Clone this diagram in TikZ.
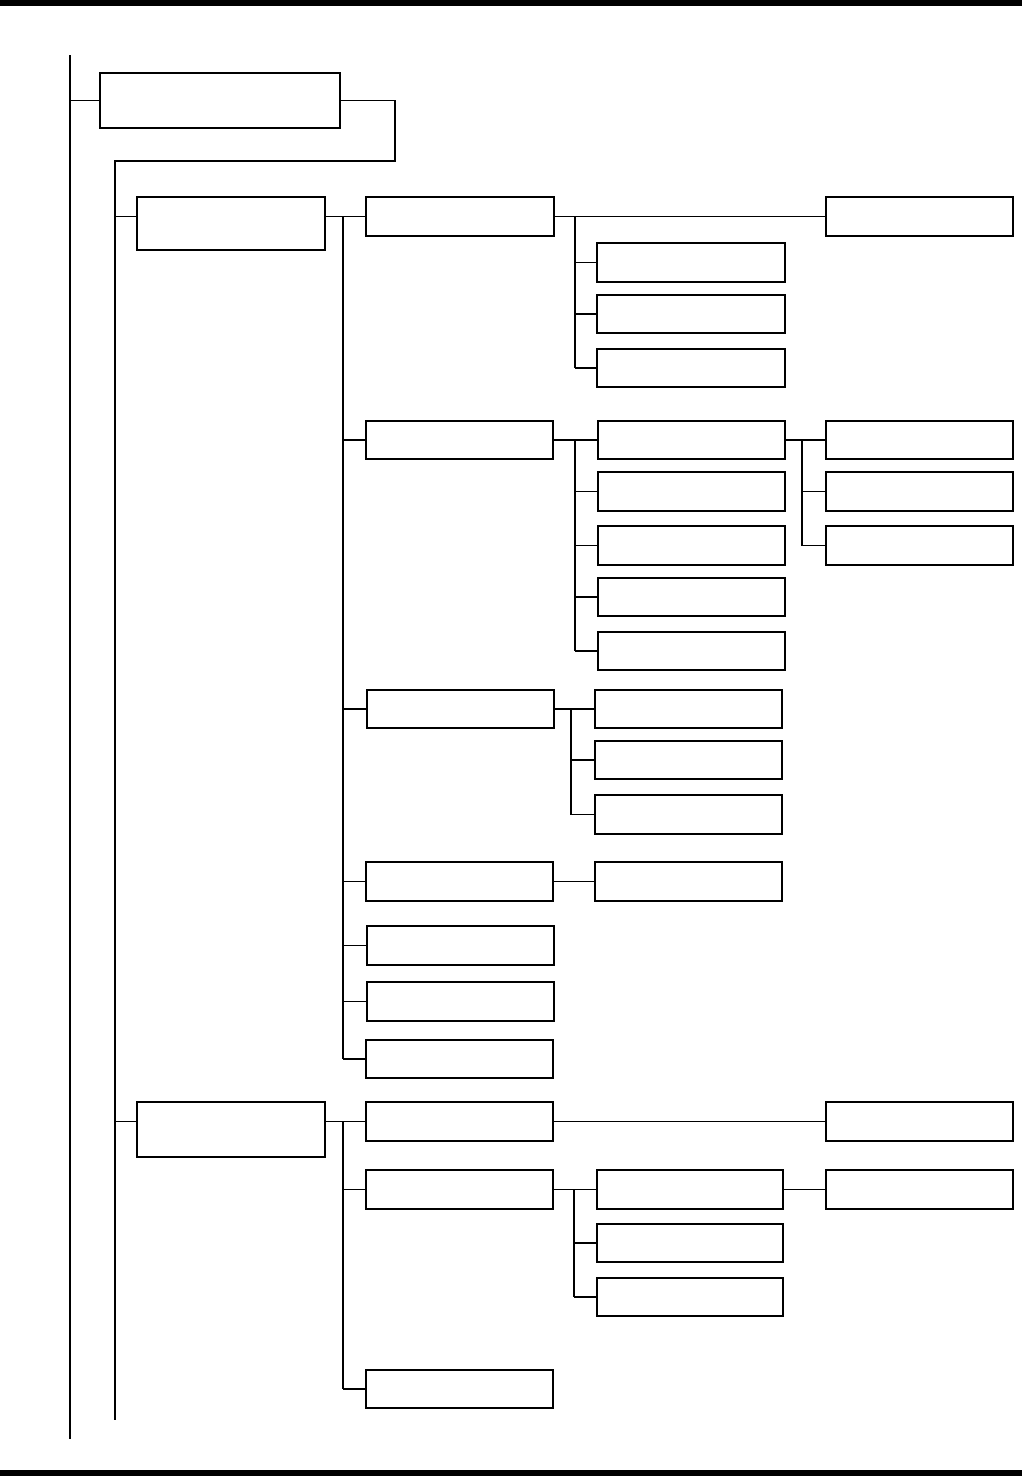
\documentclass[tikz,border=0pt]{standalone}
\newcommand\mybx[5]{\node[box, anchor=north west, minimum width={(#4-#2)*1pt}, minimum height={(#5-#3)*1pt}] (#1) at (#2,#3) {};}
\begin{document}
\begin{tikzpicture}[x=1pt,y=-1pt,
  box/.style={draw, line width=1.6pt, inner sep=0pt, outer sep=0pt, rectangle},
  conn/.style={line width=1.5pt}]
\useasboundingbox (0,0) rectangle (1022,1476);
\fill (0,0) rectangle (1022,6);
\fill (0,1470) rectangle (1022,1476);
% boxes
\mybx{root}{100}{73}{340}{128}
\mybx{A}{137}{197}{325}{250}
\mybx{H}{137}{1102}{325}{1157}
\mybx{B1}{366}{197}{554}{236}
\mybx{B2}{366}{421}{553}{459}
\mybx{B3}{367}{690}{554}{728}
\mybx{B4}{366}{862}{553}{901}
\mybx{B5}{367}{926}{554}{965}
\mybx{B6}{367}{982}{554}{1021}
\mybx{B7}{366}{1040}{553}{1078}
\mybx{B1R}{826}{197}{1013}{236}
\mybx{C1}{597}{243}{785}{282}
\mybx{C2}{597}{295}{785}{333}
\mybx{C3}{597}{349}{785}{387}
\mybx{D1}{598}{421}{785}{459}
\mybx{D2}{598}{472}{785}{511}
\mybx{D3}{598}{526}{785}{565}
\mybx{D4}{598}{578}{785}{616}
\mybx{D5}{598}{632}{785}{670}
\mybx{E1}{826}{421}{1013}{459}
\mybx{E2}{826}{472}{1013}{511}
\mybx{E3}{826}{526}{1013}{565}
\mybx{F1}{595}{690}{782}{728}
\mybx{F2}{595}{741}{782}{779}
\mybx{F3}{595}{795}{782}{834}
\mybx{G1}{595}{862}{782}{901}
\mybx{J1}{366}{1102}{553}{1141}
\mybx{J1R}{826}{1102}{1013}{1141}
\mybx{J2}{366}{1170}{553}{1209}
\mybx{J3}{366}{1370}{553}{1408}
\mybx{K1}{597}{1170}{783}{1209}
\mybx{K2}{597}{1224}{783}{1262}
\mybx{K3}{597}{1278}{783}{1316}
\mybx{K1R}{826}{1170}{1013}{1209}
% spine coordinates
\coordinate (s0t) at (70,55);
\coordinate (s0b) at (70,1439);
\coordinate (r1) at (395,161);
\coordinate (s1b) at (115,1420);
\coordinate (s2) at (343,0);
\coordinate (sc) at (575,0);
\coordinate (se) at (802,0);
\coordinate (sf) at (571,0);
\coordinate (sk) at (574,0);
% connectors
\draw[conn] (s0t) -- (s0b);
\draw[conn] (s0t |- root.west) -- (root.west);
\draw[conn] (root.east) -| (r1) -- (r1 -| s1b) -- (s1b);
% group A
\draw[conn] (s1b |- B1.west) -- (A.west |- B1.west);
\draw[conn] (A.east |- B1.west) -- (B1.west);
\draw[conn] (s2 |- B1.west) -- (s2 |- B7.west);
\foreach \n in {B2,B3,B4,B5,B6,B7} \draw[conn] (s2 |- \n.west) -- (\n.west);
\draw[conn] (B1.east) -- (B1R.west);
\draw[conn] (sc |- B1.east) -- (sc |- C3.west);
\foreach \n in {C1,C2,C3} \draw[conn] (sc |- \n.west) -- (\n.west);
\draw[conn] (B2.east) -- (D1.west);
\draw[conn] (sc |- D1.west) -- (sc |- D5.west);
\foreach \n in {D2,D3,D4,D5} \draw[conn] (sc |- \n.west) -- (\n.west);
\draw[conn] (D1.east) -- (E1.west);
\draw[conn] (se |- E1.west) -- (se |- E3.west);
\foreach \n in {E2,E3} \draw[conn] (se |- \n.west) -- (\n.west);
\draw[conn] (B3.east) -- (F1.west);
\draw[conn] (sf |- F1.west) -- (sf |- F3.west);
\foreach \n in {F2,F3} \draw[conn] (sf |- \n.west) -- (\n.west);
\draw[conn] (B4.east) -- (G1.west);
% group H
\draw[conn] (s1b |- J1.west) -- (H.west |- J1.west);
\draw[conn] (H.east |- J1.west) -- (J1.west);
\draw[conn] (s2 |- J1.west) -- (s2 |- J3.west);
\foreach \n in {J2,J3} \draw[conn] (s2 |- \n.west) -- (\n.west);
\draw[conn] (J1.east) -- (J1R.west);
\draw[conn] (J2.east) -- (K1.west);
\draw[conn] (sk |- K1.west) -- (sk |- K3.west);
\foreach \n in {K2,K3} \draw[conn] (sk |- \n.west) -- (\n.west);
\draw[conn] (K1.east) -- (K1R.west);
\end{tikzpicture}
\end{document}
